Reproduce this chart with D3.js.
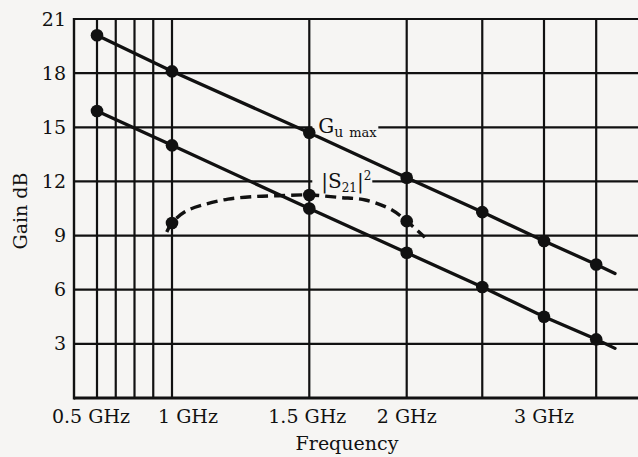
<!DOCTYPE html>
<html>
<head>
<meta charset="utf-8">
<script src="https://cdn.jsdelivr.net/npm/d3@7"></script>
<style>
  html, body { margin: 0; padding: 0; background: #f6f5f3; }
  svg { display: block; }
</style>
</head>
<body>
<svg id="chart" width="638" height="457"></svg>
<script>
// Measured gain points (GHz, dB)
const frequencies = [0.5, 1, 1.5, 2, 2.5, 3, 3.5];
const guMax = [20.1, 18.1, 14.7, 12.2, 10.3, 8.7, 7.4];
const gainLower = [15.9, 14.0, 10.5, 8.05, 6.15, 4.5, 3.25];

// The straight lines run on a little past the last point
const lineEndFreq = 3.7;
const guMaxEnd = 6.9;
const gainLowerEnd = 2.75;

// |S21|^2 measured points and the dashed curve traced through them
const s21Freqs = [1, 1.5, 2];
const s21Sq = [9.7, 11.25, 9.8];
const s21CurveFreqs = [0.965, 1, 1.04, 1.1, 1.18, 1.27, 1.37, 1.5, 1.64, 1.77, 1.915, 2, 2.11];
const s21CurveVals = [9.2, 9.7, 10.33, 10.72, 11.02, 11.16, 11.21, 11.25, 11.11, 10.97, 10.42, 9.8, 8.9];

// Axes and grid
const gainTicks = [3, 6, 9, 12, 15, 18, 21];
const gridGains = [0, 3, 6, 9, 12, 15, 18, 21];
const gridFreqs = [0.5, 0.625, 0.75, 0.875, 1, 1.5, 2, 2.5, 3, 3.5];
const freqTicks = [0.5, 1, 1.5, 2, 3];
const freqLabels = ["0.5 GHz", "1 GHz", "1.5 GHz", "2 GHz", "3 GHz"];
const freqLabelShift = [-6, 16, -2, 0, 0];

const W = 638, H = 457;
const plot = { left: 74, top: 19, bottom: 398, right: W };
const bg = "#f6f5f3";
const ink = "#111111";
const font = "'DejaVu Serif', 'Liberation Serif', serif";

// Frequency axis: linear below 1 GHz, logarithmic above
const xLow = d3.scaleLinear().domain([0.5, 1]).range([97, 172]);
const xLog = d3.scaleLog().domain([1, 3]).range([172, 544]);
const x = f => (f < 1 ? xLow(f) : xLog(f));
const y = d3.scaleLinear().domain([0, 21]).range([plot.bottom, plot.top]);

const svg = d3.select("#chart");
svg.append("rect").attr("width", W).attr("height", H).attr("fill", bg);

// Horizontal grid
svg.append("g").selectAll("line").data(gridGains).join("line")
  .attr("x1", plot.left).attr("x2", plot.right)
  .attr("y1", d => y(d)).attr("y2", d => y(d))
  .attr("stroke", ink).attr("stroke-width", d => (d === 0 ? 2.8 : 2.2));

// Vertical grid
svg.append("g").selectAll("line").data(gridFreqs).join("line")
  .attr("x1", d => x(d)).attr("x2", d => x(d))
  .attr("y1", plot.top).attr("y2", plot.bottom)
  .attr("stroke", ink).attr("stroke-width", 2.2);

// Left frame
svg.append("line")
  .attr("x1", plot.left).attr("x2", plot.left)
  .attr("y1", plot.top - 1).attr("y2", plot.bottom + 1.4)
  .attr("stroke", ink).attr("stroke-width", 2.4);

// Gain tick labels
const yAxis = d3.axisLeft(y).tickValues(gainTicks).tickSize(0).tickPadding(8);
const gy = svg.append("g").attr("transform", `translate(${plot.left},0)`).call(yAxis);
gy.select(".domain").remove();
gy.selectAll("text").attr("font-family", font).attr("font-size", 19).attr("fill", ink);

// Frequency tick labels
svg.append("g").selectAll("text").data(freqTicks).join("text")
  .attr("x", (d, i) => x(d) + freqLabelShift[i])
  .attr("y", 423)
  .attr("text-anchor", "middle")
  .attr("font-family", font).attr("font-size", 19).attr("fill", ink)
  .text((d, i) => freqLabels[i]);

// Axis titles
svg.append("text")
  .attr("x", 347).attr("y", 450)
  .attr("text-anchor", "middle")
  .attr("font-family", font).attr("font-size", 19).attr("fill", ink)
  .text("Frequency");
svg.append("text")
  .attr("transform", "translate(27,211) rotate(-90)")
  .attr("text-anchor", "middle")
  .attr("font-family", font).attr("font-size", 19).attr("fill", ink)
  .text("Gain dB");

// Solid gain lines
const line = d3.line().x(d => x(d[0])).y(d => y(d[1]));
const upperPts = frequencies.map((f, i) => [f, guMax[i]]).concat([[lineEndFreq, guMaxEnd]]);
const lowerPts = frequencies.map((f, i) => [f, gainLower[i]]).concat([[lineEndFreq, gainLowerEnd]]);
[upperPts, lowerPts].forEach(pts => {
  svg.append("path").attr("d", line(pts))
    .attr("fill", "none").attr("stroke", ink).attr("stroke-width", 3.3)
    .attr("stroke-linecap", "round");
});

// Dashed |S21|^2 curve
const curve = d3.line().x(d => x(d[0])).y(d => y(d[1])).curve(d3.curveCatmullRom.alpha(0.5));
svg.append("path")
  .attr("d", curve(s21CurveFreqs.map((f, i) => [f, s21CurveVals[i]])))
  .attr("fill", "none").attr("stroke", ink).attr("stroke-width", 3.4)
  .attr("stroke-dasharray", "11 6");

// Label backgrounds hide the grid behind the text
function label(xPos, yPos, width) {
  svg.append("rect")
    .attr("x", xPos - 3).attr("y", yPos - 9)
    .attr("width", width).attr("height", 16)
    .attr("fill", bg);
}
label(x(1.5) + 6, y(15), 66);
label(x(1.5) + 6, y(12), 60);

// Markers
const dots = frequencies.map((f, i) => [f, guMax[i]])
  .concat(frequencies.map((f, i) => [f, gainLower[i]]))
  .concat(s21Freqs.map((f, i) => [f, s21Sq[i]]));
svg.append("g").selectAll("circle").data(dots).join("circle")
  .attr("cx", d => x(d[0])).attr("cy", d => y(d[1])).attr("r", 6.3)
  .attr("fill", ink);

// G_u max label
const tG = svg.append("text")
  .attr("x", x(1.5) + 9).attr("y", y(15) + 6)
  .attr("font-family", font).attr("fill", ink);
tG.append("tspan").attr("font-size", 20).text("G");
tG.append("tspan").attr("font-size", 14).attr("dy", 4).text("u");
tG.append("tspan").attr("font-size", 13).attr("dx", 6).text("max");

// |S21|^2 label
const tS = svg.append("text")
  .attr("x", x(1.5) + 12).attr("y", y(12) + 7)
  .attr("font-family", font).attr("fill", ink);
tS.append("tspan").attr("font-size", 20).text("|S");
tS.append("tspan").attr("font-size", 12).attr("dy", 4).text("21");
tS.append("tspan").attr("font-size", 20).attr("dy", -4).text("|");
tS.append("tspan").attr("font-size", 12).attr("dy", -8).text("2");
</script>
</body>
</html>
